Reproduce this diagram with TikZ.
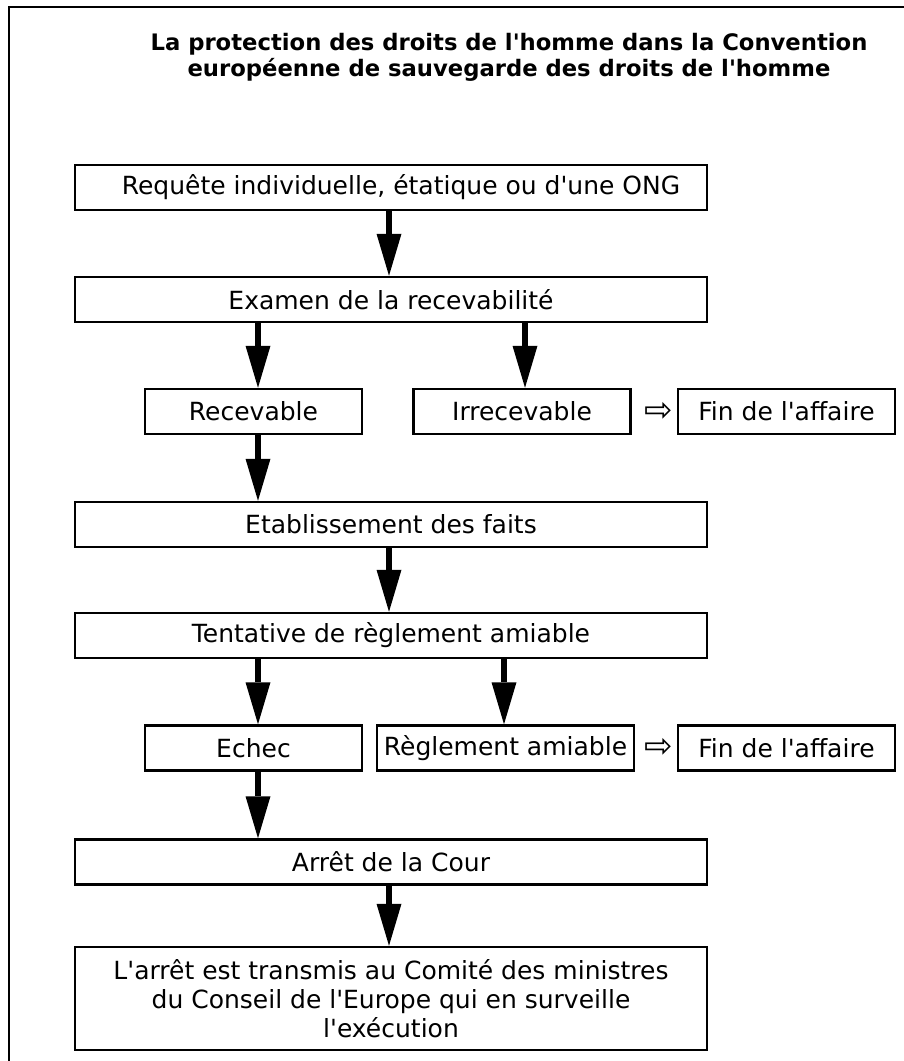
\documentclass[tikz,border=0pt]{standalone}
\usepackage{fontspec}
\setmainfont{DejaVu Sans}[Ligatures=TeXOff]
\usetikzlibrary{arrows.meta}

\tikzset{
  etape/.style={draw, line width=2.5pt, minimum height=45pt, inner sep=0pt,
    font=\fontsize{25}{29}\selectfont},
  large/.style={etape, minimum width=632pt},
  petite/.style={etape, minimum width=217pt},
  fleche/.style={line width=6pt,
    -{Triangle[length=42pt, width=25pt, line width=0pt]}},
  renvoi/.style={inner sep=0pt, font=\fontsize{34}{34}\selectfont},
  titre/.style={align=center, inner sep=0pt,
    font=\bfseries\fontsize{22.7}{26}\selectfont},
}

\begin{document}
\begin{tikzpicture}[x=1pt, y=-1pt]
      \useasboundingbox (0,0) rectangle (904,1061);
      \draw[line width=2.5pt] (9,7) rectangle (930,1090);

      \node[titre, anchor=north] (titre) at (509,33)
        {La protection des droits de l'homme dans la Convention\\
         européenne de sauvegarde des droits de l'homme};

      % les etapes
      \node[large] (req) at (391,187.5) {\hspace*{20pt}Requête individuelle, étatique ou d'une ONG};
      \node[large] (exam) at (391,299.5) {Examen de la recevabilité};
      \node[petite] (recv) at (253.5,411.5) {Recevable};
      \node[petite] (irr) at (522,411.5) {Irrecevable};
      \node[renvoi] (fl1) at (659,411.5) {⇨};
      \node[petite] (fin1) at (786.5,411.5) {Fin de l'affaire};
      \node[large] (etab) at (391,524.5) {Etablissement des faits};
      \node[large] (tent) at (391,635.5) {Tentative de règlement amiable};
      \node[petite] (echec) at (253.5,748) {Echec};
      \node[etape, minimum width=257pt] (regl) at (505.5,748) {Règlement amiable};
      \node[renvoi] (fl2) at (659,748) {⇨};
      \node[petite] (fin2) at (786.5,748) {Fin de l'affaire};
      \node[large] (arret) at (391,862) {Arrêt de la Cour};
      \node[large, minimum height=103pt, align=center] (trans) at (391,998.5)
        {L'arrêt est transmis au Comité des ministres\\
         du Conseil de l'Europe qui en surveille\\
         l'exécution};

      % les fleches
      \begin{scope}[fleche]
        \draw (req.south -| 389,0) to (exam.north -| 389,0);
        \draw (exam.south -| 258,0) to (recv.north -| 258,0);
        \draw (exam.south -| 525,0) to (irr.north -| 525,0);
        \draw (recv.south -| 258,0) to (etab.north -| 258,0);
        \draw (etab.south -| 389,0) to (tent.north -| 389,0);
        \draw (tent.south -| 258,0) to (echec.north -| 258,0);
        \draw (tent.south -| 504,0) to (regl.north -| 504,0);
        \draw (echec.south -| 258,0) to (arret.north -| 258,0);
        \draw (arret.south -| 389,0) to (trans.north -| 389,0);
      \end{scope}
\end{tikzpicture}
\end{document}
